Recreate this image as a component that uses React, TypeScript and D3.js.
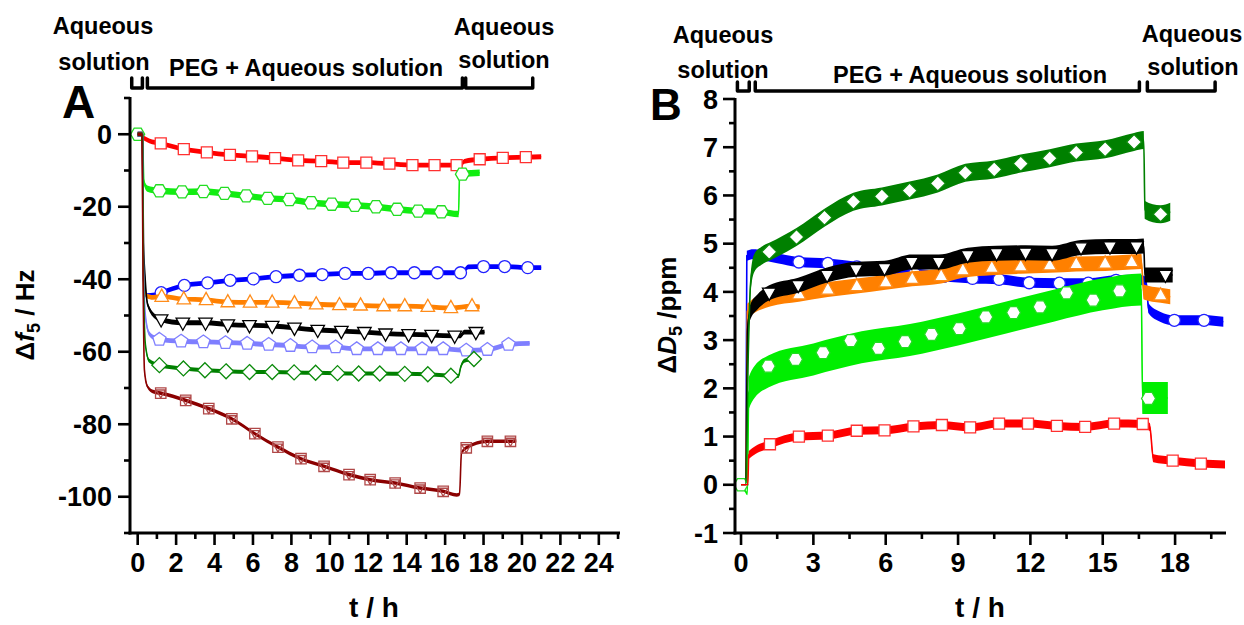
import React from 'react';
import * as d3 from 'd3';

type P = [number, number, number?];

// ---------- Panel A : Δf5 / Hz vs t / h  (third entry 1 = symbol drawn) ----------
const A_red: P[] = [[0,0],[0.3,-1.0],[0.6,-1.8],[1.2,-2.5,1],[2.4,-4.1,1],[3.6,-5.0,1],[4.8,-5.7,1],[5.95,-6.1,1],[7.15,-6.6,1],[8.35,-7.2,1],[9.55,-7.4,1],[10.7,-7.8,1],[11.9,-7.8,1],[13.1,-8.1,1],[14.3,-8.5,1],[15.45,-8.5,1],[16.6,-8.5,1],[16.8,-8.7],[17.0,-7.5],[17.8,-6.9,1],[19.0,-6.5,1],[20.2,-6.3,1],[21.0,-6.2]];
const A_lime: P[] = [[0,0,1],[0.25,0],[0.32,-13],[0.5,-15],[1.13,-15.6,1],[2.31,-15.9,1],[3.42,-15.8,1],[4.52,-16.3,1],[5.65,-17.0,1],[6.77,-17.7,1],[7.9,-18.0,1],[9.03,-18.9,1],[10.1,-19.3,1],[11.3,-19.6,1],[12.4,-20.0,1],[13.5,-20.7,1],[14.6,-21.2,1],[15.8,-21.4,1],[16.7,-22.0],[16.75,-11.5],[16.9,-11.0,1],[17.8,-10.6]];
const A_blue: P[] = [[0,0],[0.25,0],[0.3,-40],[0.45,-44.5],[0.9,-44.3],[1.22,-43.7,1],[2.43,-41.7,1],[3.64,-41.0,1],[4.81,-40.3,1],[6.02,-39.9,1],[7.2,-39.3,1],[8.42,-38.9,1],[9.6,-38.7,1],[10.8,-38.4,1],[12.0,-38.4,1],[13.2,-38.2,1],[14.4,-38.2,1],[15.6,-38.2,1],[16.8,-38.2,1],[17.0,-37.6],[17.2,-36.6],[18.0,-36.5,1],[19.1,-36.5,1],[20.3,-36.8,1],[21.0,-36.8]];
const A_orange: P[] = [[0,0],[0.25,0],[0.3,-38],[0.45,-44.5],[0.8,-45],[1.25,-44.8,1],[2.4,-45.5,1],[3.56,-45.7,1],[4.69,-46.3,1],[5.85,-46.4,1],[7.0,-46.4,1],[8.16,-46.6,1],[9.29,-46.9,1],[10.5,-47.1,1],[11.6,-47.2,1],[12.8,-47.4,1],[13.9,-47.4,1],[15.1,-47.6,1],[16.3,-47.9,1],[17.4,-47.4,1],[17.8,-47.6]];
const A_black: P[] = [[0,0],[0.25,0],[0.3,-30],[0.38,-39],[0.52,-47],[0.96,-50.5],[1.22,-51.1,1],[2.35,-52.0,1],[3.53,-52.0,1],[4.69,-52.5,1],[5.82,-52.7,1],[7.0,-52.9,1],[8.16,-53.4,1],[9.37,-54.0,1],[10.6,-54.3,1],[11.8,-54.6,1],[12.9,-55.0,1],[14.1,-55.2,1],[15.3,-55.4,1],[16.5,-55.6,1],[16.8,-55.6],[17.0,-54.6],[17.6,-54.6,1],[18.05,-54.6]];
const A_lightblue: P[] = [[0,0],[0.25,0],[0.3,-35],[0.4,-50],[0.6,-55],[0.9,-56.2],[1.13,-56.6,1],[2.26,-57.1,1],[3.42,-57.3,1],[4.57,-57.5,1],[5.7,-57.7,1],[6.82,-58.0,1],[7.95,-58.3,1],[9.08,-58.7,1],[10.3,-58.7,1],[11.4,-59.2,1],[12.5,-59.2,1],[13.7,-59.2,1],[14.8,-59.2,1],[15.9,-59.2,1],[17.1,-59.6,1],[18.2,-59.4,1],[19.3,-58.0,1],[20.4,-57.7]];
const A_darkgreen: P[] = [[0,0],[0.25,0],[0.3,-40],[0.4,-58],[0.6,-62.5],[1.13,-63.7,1],[2.38,-64.6,1],[3.5,-65.1,1],[4.6,-65.4,1],[5.82,-65.6,1],[7.0,-65.6,1],[8.14,-65.7,1],[9.26,-65.8,1],[10.4,-65.9,1],[11.5,-66.0,1],[12.6,-66.0,1],[13.9,-66.1,1],[15.1,-66.2,1],[16.3,-66.6,1],[16.7,-66.7],[16.8,-64.5],[17.0,-62.5],[17.5,-62.0,1],[17.8,-61.7]];
const A_darkred: P[] = [[0,0],[0.22,0],[0.28,-40],[0.35,-65],[0.5,-69.5],[0.8,-71],[1.2,-71.4,1],[2.5,-73.4,1],[3.7,-75.7,1],[4.9,-78.5,1],[6.1,-82.6,1],[7.3,-86.3,1],[8.5,-89.5,1],[9.7,-91.6,1],[11.0,-93.9,1],[12.1,-95.3,1],[13.4,-96.2,1],[14.7,-97.6,1],[15.9,-98.5,1],[16.6,-99.5],[16.75,-99.3],[16.85,-88],[17.1,-86.5,1],[18.2,-84.7,1],[19.4,-84.7,1],[19.7,-84.6]];

// ---------- Panel B : ΔD5 / ppm vs t / h ----------
const B_red: P[] = [[0,0],[0.28,0],[0.32,0.62],[0.6,0.72],[1.2,0.84,1],[2.4,1.0,1],[3.6,1.02,1],[4.8,1.12,1],[5.95,1.13,1],[7.15,1.21,1],[8.33,1.24,1],[9.5,1.19,1],[10.7,1.27,1],[11.9,1.27,1],[13.1,1.22,1],[14.27,1.2,1],[15.47,1.27,1],[16.66,1.26,1],[16.95,1.2],[17.1,0.55],[17.9,0.5,1],[19.07,0.44,1],[20.07,0.42]];
// lime: band centre line, and the symbols read separately
const B_lime: P[] = [[0,0],[0.2,-0.15],[0.26,-0.2],[0.32,1.9],[0.45,2.05],[1.13,2.35],[3.0,2.6],[5.0,2.85],[7.0,3.0],[9.0,3.22],[11.0,3.47],[13.0,3.72],[15.0,3.95],[16.6,4.05],[16.65,1.8],[17.7,1.8]];
const B_limeMarks: P[] = [[0,0],[1.13,2.46],[2.26,2.6],[3.4,2.74],[4.55,2.99],[5.7,2.83],[6.8,2.97],[7.9,3.12],[9.05,3.24],[10.15,3.48],[11.3,3.57],[12.4,3.69],[13.5,3.98],[14.6,3.83],[15.7,4.02],[16.9,1.79]];
const B_blue: P[] = [[0,0],[0.2,0],[0.24,4.75],[0.5,4.78],[1.0,4.75],[1.5,4.7],[2.4,4.62,1],[3.6,4.59,1],[4.8,4.52,1],[6.0,4.45,1],[7.2,4.38,1],[8.4,4.32,1],[9.6,4.28,1],[10.7,4.26,1],[11.95,4.19,1],[13.2,4.18,1],[14.4,4.18,1],[15.55,4.24,1],[16.5,4.25],[16.8,4.2],[16.9,3.66],[17.4,3.48],[17.97,3.41,1],[19.2,3.41,1],[20.0,3.38]];
const B_orange: P[] = [[0,0],[0.2,0],[0.26,3.6],[0.5,3.7],[1.2,3.85],[2.4,3.95,1],[3.6,4.05,1],[4.8,4.12,1],[6.0,4.2,1],[7.1,4.27,1],[8.3,4.33,1],[9.2,4.45,1],[10.4,4.5,1],[11.6,4.53,1],[12.8,4.55,1],[13.9,4.58,1],[15.1,4.59,1],[16.2,4.62,1],[16.6,4.63],[16.7,4.0],[17.4,3.93,1],[17.8,3.9]];
const B_black: P[] = [[0,0],[0.2,0],[0.27,3.2],[0.37,3.56],[0.7,3.8],[1.17,3.98,1],[2.37,4.14,1],[3.57,4.35,1],[4.77,4.47,1],[5.95,4.49,1],[7.08,4.62,1],[8.2,4.62,1],[9.4,4.76,1],[10.6,4.8,1],[11.8,4.81,1],[12.9,4.8,1],[14.1,4.92,1],[15.3,4.94,1],[16.4,4.94,1],[16.7,4.95],[16.75,4.35],[17.6,4.35,1],[17.9,4.35]];
const B_darkgreen: P[] = [[0,0],[0.2,0],[0.3,2.7],[0.4,4.2],[0.55,4.6],[0.85,4.75],[1.17,4.83,1],[2.3,5.14,1],[3.46,5.54,1],[4.66,5.87,1],[5.84,5.98,1],[6.99,6.1,1],[8.16,6.25,1],[9.3,6.47,1],[10.5,6.54,1],[11.6,6.66,1],[12.8,6.77,1],[13.9,6.89,1],[15.1,6.96,1],[16.3,7.11,1],[16.7,7.15],[16.75,5.7],[17.4,5.61,1],[17.8,5.66]];

// ---------- ticks ----------
const A_xTicks = [0,2,4,6,8,10,12,14,16,18,20,22,24];
const A_xMinor = [1,3,5,7,9,11,13,15,17,19,21,23,25];
const A_yTicks = [0,-20,-40,-60,-80,-100];
const A_yMinor = [10,-10,-30,-50,-70,-90,-110];
const B_xTicks = [0,3,6,9,12,15,18];
const B_xMinor = [1.5,4.5,7.5,10.5,13.5,16.5,19.5];
const B_yTicks = [8,7,6,5,4,3,2,1,0,-1];
const B_yMinor = [7.5,6.5,5.5,4.5,3.5,2.5,1.5,0.5,-0.5];

// phase brackets (t / h)
const A_phases: [number, number][] = [[-0.31,0.245],[0.505,16.9],[17.07,20.56]];
const B_phases: [number, number][] = [[-0.15,0.34],[0.59,16.52],[16.85,19.66]];

const FONT = '"Liberation Sans", Arial, Helvetica, sans-serif';

function markerPath(shape: string, r: number): string {
  const poly = (pts: [number, number][]) => 'M' + pts.map(p => p[0].toFixed(2) + ',' + p[1].toFixed(2)).join('L') + 'Z';
  switch (shape) {
    case 'square': return `M${-r},${-r}H${r}V${r}H${-r}Z`;
    case 'circle': return `M${r},0A${r},${r} 0 1,1 ${-r},0A${r},${r} 0 1,1 ${r},0Z`;
    case 'triUp': return poly([[0,-r],[r*0.9,r*0.62],[-r*0.9,r*0.62]]);
    case 'triDown': return poly([[0,r],[r*0.9,-r*0.62],[-r*0.9,-r*0.62]]);
    case 'diamond': return poly([[0,-r],[r,0],[0,r],[-r,0]]);
    case 'hexagon': return poly(d3.range(6).map(k => [r*Math.cos(k*Math.PI/3), r*Math.sin(k*Math.PI/3)] as [number, number]));
    case 'pentagon': return poly(d3.range(5).map(k => { const a = -Math.PI/2 + k*2*Math.PI/5; return [r*Math.cos(a), r*Math.sin(a)] as [number, number]; }));
    case 'sqTri': return markerPath('square', r) + markerPath('triDown', r*0.95);
    default: return '';
  }
}

type S = { data: P[]; marks?: P[]; color: string; band: number; bandFrom: number; shape: string; r: number; mstroke: string; mfill: string };

function Series({ s, x, y }: { s: S; x: d3.ScaleLinear<number, number>; y: d3.ScaleLinear<number, number> }) {
  const area = d3.area<P>().x(d => x(d[0])).y0(d => y(d[1]) - s.band).y1(d => y(d[1]) + s.band).curve(d3.curveMonotoneX);
  const line = d3.line<P>().x(d => x(d[0])).y(d => y(d[1])).curve(d3.curveMonotoneX);
  const banded = s.data.filter(p => p[0] >= s.bandFrom);
  const marks = s.marks ? s.marks : s.data.filter(p => p[2]);
  return (
    <g>
      <path d={area(banded) || ''} fill={s.color} />
      <path d={line(s.data) || ''} fill="none" stroke={s.color} strokeWidth={1.6} />
      {marks.map((p, i) => (
        <path key={i} transform={`translate(${x(p[0])},${y(p[1])})`} d={markerPath(s.shape, s.r)}
          fill={s.mfill} stroke={s.mstroke} strokeWidth={1.3} />
      ))}
    </g>
  );
}

function Axes({ x, y, xTicks, xMinor, yTicks, yMinor, labelGap }: any) {
  const [x0, x1] = x.range();
  const [y0, y1] = y.range();
  return (
    <g fontFamily={FONT} fontWeight="bold" fontSize={27} fill="#000">
      <line x1={x0} x2={x0} y1={y1 - 1} y2={y0 + 1.5} stroke="#000" strokeWidth={3} />
      <line x1={x0 - 1.5} x2={x1 + 1} y1={y0} y2={y0} stroke="#000" strokeWidth={3} />
      {yTicks.map((v: number) => (
        <g key={'y' + v}>
          <line x1={x0} x2={x0 - 12} y1={y(v)} y2={y(v)} stroke="#000" strokeWidth={2.6} />
          <text x={x0 - labelGap} y={y(v)} dy="0.36em" textAnchor="end">{String(v)}</text>
        </g>
      ))}
      {yMinor.map((v: number) => (
        <line key={'ym' + v} x1={x0} x2={x0 - 6} y1={y(v)} y2={y(v)} stroke="#000" strokeWidth={2.6} />
      ))}
      {xTicks.map((v: number) => (
        <g key={'x' + v}>
          <line x1={x(v)} x2={x(v)} y1={y0} y2={y0 + 12} stroke="#000" strokeWidth={2.6} />
          <text x={x(v)} y={y0 + 39} textAnchor="middle">{String(v)}</text>
        </g>
      ))}
      {xMinor.map((v: number) => (
        <line key={'xm' + v} x1={x(v)} x2={x(v)} y1={y0} y2={y0 + 6} stroke="#000" strokeWidth={2.6} />
      ))}
    </g>
  );
}

function Brackets({ x, phases, top, bottom }: any) {
  return (
    <g fill="none" stroke="#000" strokeWidth={3.5} strokeLinejoin="round" strokeLinecap="round">
      {phases.map((p: [number, number], i: number) => (
        <path key={i} d={`M${x(p[0])},${top}V${bottom}H${x(p[1])}V${top}`} />
      ))}
    </g>
  );
}

export default function App() {
  const xA = d3.scaleLinear().domain([-0.4, 25.05]).range([130, 619]);
  const yA = d3.scaleLinear().domain([-110, 10]).range([533, 98]);
  const xB = d3.scaleLinear().domain([-0.25, 20.07]).range([735, 1225]);
  const yB = d3.scaleLinear().domain([-1, 8]).range([533, 99]);

  const seriesA: S[] = [
    { data: A_red, color: '#ff0000', band: 2.4, bandFrom: 0, shape: 'square', r: 5.5, mstroke: '#ff3030', mfill: '#fff' },
    { data: A_lime, color: '#11ee11', band: 3.2, bandFrom: 0, shape: 'hexagon', r: 7, mstroke: '#22dd22', mfill: '#fff' },
    { data: A_blue, color: '#0000ff', band: 2.4, bandFrom: 0, shape: 'circle', r: 6, mstroke: '#2020ff', mfill: '#fff' },
    { data: A_orange, color: '#ff8000', band: 2.4, bandFrom: 0, shape: 'triUp', r: 7.5, mstroke: '#ff8c1a', mfill: '#fff' },
    { data: A_black, color: '#000000', band: 2.4, bandFrom: 0, shape: 'triDown', r: 7.5, mstroke: '#000', mfill: '#fff' },
    { data: A_lightblue, color: '#7f7fff', band: 2.4, bandFrom: 0, shape: 'pentagon', r: 7, mstroke: '#7f7fff', mfill: '#fff' },
    { data: A_darkgreen, color: '#008000', band: 2, bandFrom: 0, shape: 'diamond', r: 7.5, mstroke: '#0a8a0a', mfill: '#fff' },
    { data: A_darkred, color: '#8b0000', band: 1.8, bandFrom: 0, shape: 'sqTri', r: 5.2, mstroke: '#b04848', mfill: 'none' },
  ];
  const seriesB: S[] = [
    { data: B_blue, color: '#0000ff', band: 5, bandFrom: 0.24, shape: 'circle', r: 6, mstroke: '#2020ff', mfill: '#fff' },
    { data: B_orange, color: '#ff8000', band: 7.5, bandFrom: 0.26, shape: 'triUp', r: 7.5, mstroke: '#ff8c1a', mfill: '#fff' },
    { data: B_black, color: '#000000', band: 7.5, bandFrom: 0.27, shape: 'triDown', r: 7.5, mstroke: '#000', mfill: '#fff' },
    { data: B_lime, marks: B_limeMarks, color: '#00ee00', band: 16, bandFrom: 0.32, shape: 'hexagon', r: 7, mstroke: '#22dd22', mfill: '#fff' },
    { data: B_darkgreen, color: '#008000', band: 9, bandFrom: 0.3, shape: 'diamond', r: 7.5, mstroke: '#0a8a0a', mfill: '#fff' },
    { data: B_red, color: '#ff0000', band: 4, bandFrom: 0.32, shape: 'square', r: 5.5, mstroke: '#ff3030', mfill: '#fff' },
  ];

  const txt = { fontFamily: FONT, fontWeight: 'bold' as const };

  return (
    <svg width={1244} height={625} style={{ position: 'absolute', left: 0, top: 0, background: '#fff' }}>
      <rect width={1244} height={625} fill="#fff" />

      {/* Panel A */}
      <g>
        {seriesA.map((s, i) => <Series key={i} s={s} x={xA} y={yA} />)}
        <Axes x={xA} y={yA} xTicks={A_xTicks} xMinor={A_xMinor} yTicks={A_yTicks} yMinor={A_yMinor} labelGap={18} />
        <Brackets x={xA} phases={A_phases} top={78} bottom={88} />
        <g {...txt} fontSize={23.5} textAnchor="middle">
          <text x={103} y={34}>Aqueous</text>
          <text x={104} y={70}>solution</text>
          <text x={306} y={76}>PEG + Aqueous solution</text>
          <text x={504} y={35}>Aqueous</text>
          <text x={504} y={68}>solution</text>
        </g>
        <text {...txt} x={62} y={118} fontSize={46}>A</text>
        <text {...txt} fontSize={26} textAnchor="middle" transform="translate(34,315) rotate(-90)">
          Δ<tspan fontStyle="italic">f</tspan><tspan fontSize={18} dy={6}>5</tspan><tspan dy={-6}> / Hz</tspan>
        </text>
        <text {...txt} fontSize={28} textAnchor="middle" x={374} y={617}>t / h</text>
      </g>

      {/* Panel B */}
      <g>
        {seriesB.map((s, i) => <Series key={i} s={s} x={xB} y={yB} />)}
        <Axes x={xB} y={yB} xTicks={B_xTicks} xMinor={B_xMinor} yTicks={B_yTicks} yMinor={B_yMinor} labelGap={17} />
        <Brackets x={xB} phases={B_phases} top={82} bottom={91} />
        <g {...txt} fontSize={23.5} textAnchor="middle">
          <text x={723} y={43}>Aqueous</text>
          <text x={723} y={78}>solution</text>
          <text x={970} y={83}>PEG + Aqueous solution</text>
          <text x={1192} y={42}>Aqueous</text>
          <text x={1193} y={75}>solution</text>
        </g>
        <text {...txt} x={650} y={120} fontSize={44}>B</text>
        <text {...txt} fontSize={26} textAnchor="middle" transform="translate(676,315) rotate(-90)">
          Δ<tspan fontStyle="italic">D</tspan><tspan fontSize={18} dy={6}>5</tspan><tspan dy={-6}> /ppm</tspan>
        </text>
        <text {...txt} fontSize={28} textAnchor="middle" x={980} y={617}>t / h</text>
      </g>
    </svg>
  );
}
